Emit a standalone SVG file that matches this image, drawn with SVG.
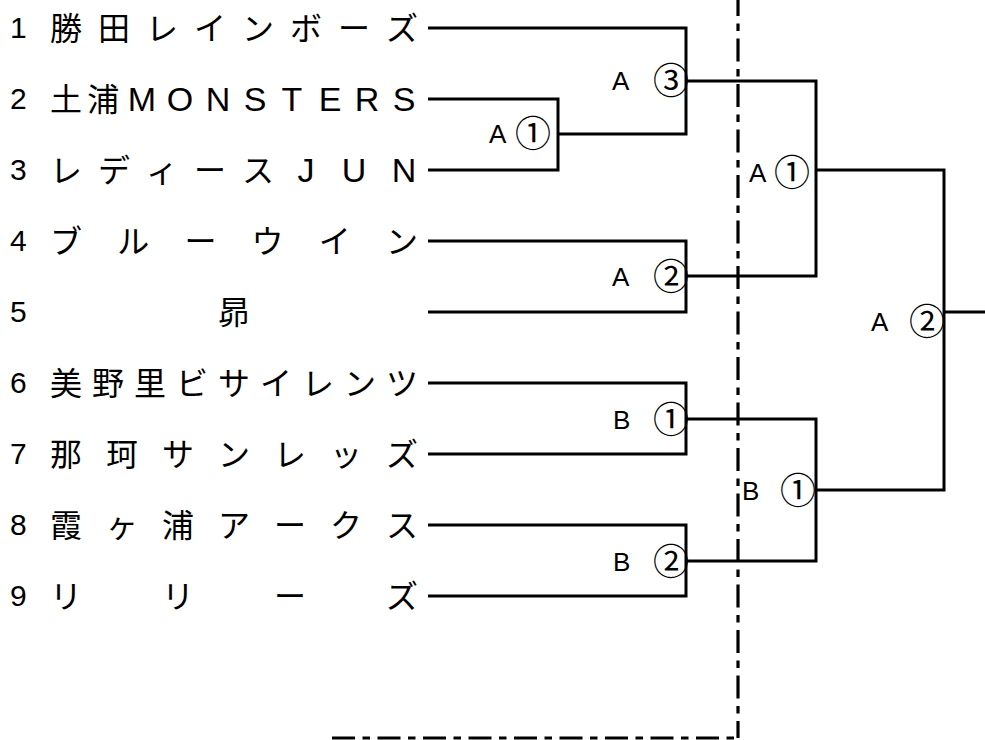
<svg xmlns="http://www.w3.org/2000/svg" width="985" height="740" viewBox="0 0 985 740">
<style>
.bg{fill:#fff}
.num{font-family:"Liberation Sans",Arial,sans-serif;font-size:30px;fill:#000}
.name{font-family:"Noto Sans CJK JP","Noto Sans CJK SC",sans-serif;font-size:32px;fill:#000;text-anchor:middle}
.lat{font-family:"Liberation Sans",Arial,sans-serif;font-size:34px;fill:#000;text-anchor:middle}
.lab{font-family:"Liberation Sans",Arial,sans-serif;font-size:26px;fill:#000}
.circ{font-family:"Noto Sans CJK JP","Noto Sans CJK SC",sans-serif;font-size:36px;fill:#000}
.ln{fill:none;stroke:#000;stroke-width:3;stroke-linejoin:miter}
.dash{fill:none;stroke:#000;stroke-width:3.2;stroke-dasharray:23 7.5 7.5 7.5}
</style>
<rect class="bg" x="0" y="0" width="985" height="740"/>
<g id="boundary">
<line class="dash" x1="738" y1="0" x2="738" y2="738" stroke-dashoffset="7"/>
<line class="dash" x1="332" y1="738" x2="738" y2="738"/>
</g>
<g id="connectors">
<path class="ln" d="M428 28 H686 V134 H558"/>
<path class="ln" d="M428 99 H558 V170 H428"/>
<path class="ln" d="M428 241 H686 V312 H428"/>
<path class="ln" d="M428 383 H686 V454 H428"/>
<path class="ln" d="M428 525 H686 V596 H428"/>
<path class="ln" d="M686 81 H816 V276 H686"/>
<path class="ln" d="M686 419 H816 V561 H686"/>
<path class="ln" d="M816 170 H944 V490 H816"/>
<path class="ln" d="M944 312 H985"/>
</g>
<g id="team1"><text class="num" x="10" y="38">1</text><text class="name" x="66 114 162 210 258 306 354 402" y="40">勝田レインボーズ</text></g>
<g id="team2"><text class="num" x="10" y="109">2</text><text class="name" x="66 103.3" y="111">土浦</text><text class="lat" x="142 180 218 255 292 330 367 404" y="111">MONSTERS</text></g>
<g id="team3"><text class="num" x="10" y="180">3</text><text class="name" x="66 114 162 210 258" y="182">レディース</text><text class="lat" x="306 354 404" y="182">JUN</text></g>
<g id="team4"><text class="num" x="10" y="251">4</text><text class="name" x="66 133.2 200.4 267.6 334.8 402" y="253">ブルーウイン</text></g>
<g id="team5"><text class="num" x="10" y="322">5</text><text class="name" x="234" y="324">昴</text></g>
<g id="team6"><text class="num" x="10" y="393">6</text><text class="name" x="66 108 150 192 234 276 318 360 402" y="395">美野里ビサイレンツ</text></g>
<g id="team7"><text class="num" x="10" y="464">7</text><text class="name" x="66 122 178 234 290 346 402" y="466">那珂サンレッズ</text></g>
<g id="team8"><text class="num" x="10" y="535">8</text><text class="name" x="66 122 178 234 290 346 402" y="537">霞ヶ浦アークス</text></g>
<g id="team9"><text class="num" x="10" y="606">9</text><text class="name" x="66 122 178 234 290 346 402" y="608">リ　リ　ー　ズ</text></g>
<g id="matchA1inner"><text class="lab" x="489" y="143">A</text><text class="circ" x="515" y="147">①</text></g>
<g id="matchA3"><text class="lab" x="612" y="90">A</text><text class="circ" x="653" y="94">③</text></g>
<g id="matchA2first"><text class="lab" x="612" y="286">A</text><text class="circ" x="653" y="290">②</text></g>
<g id="matchB1first"><text class="lab" x="613" y="429">B</text><text class="circ" x="653" y="433">①</text></g>
<g id="matchB2"><text class="lab" x="613" y="571">B</text><text class="circ" x="653" y="575">②</text></g>
<g id="matchA1right"><text class="lab" x="749" y="182">A</text><text class="circ" x="774" y="186">①</text></g>
<g id="matchB1right"><text class="lab" x="742" y="500">B</text><text class="circ" x="780" y="504">①</text></g>
<g id="matchA2final"><text class="lab" x="871" y="331">A</text><text class="circ" x="909" y="335">②</text></g>
</svg>
